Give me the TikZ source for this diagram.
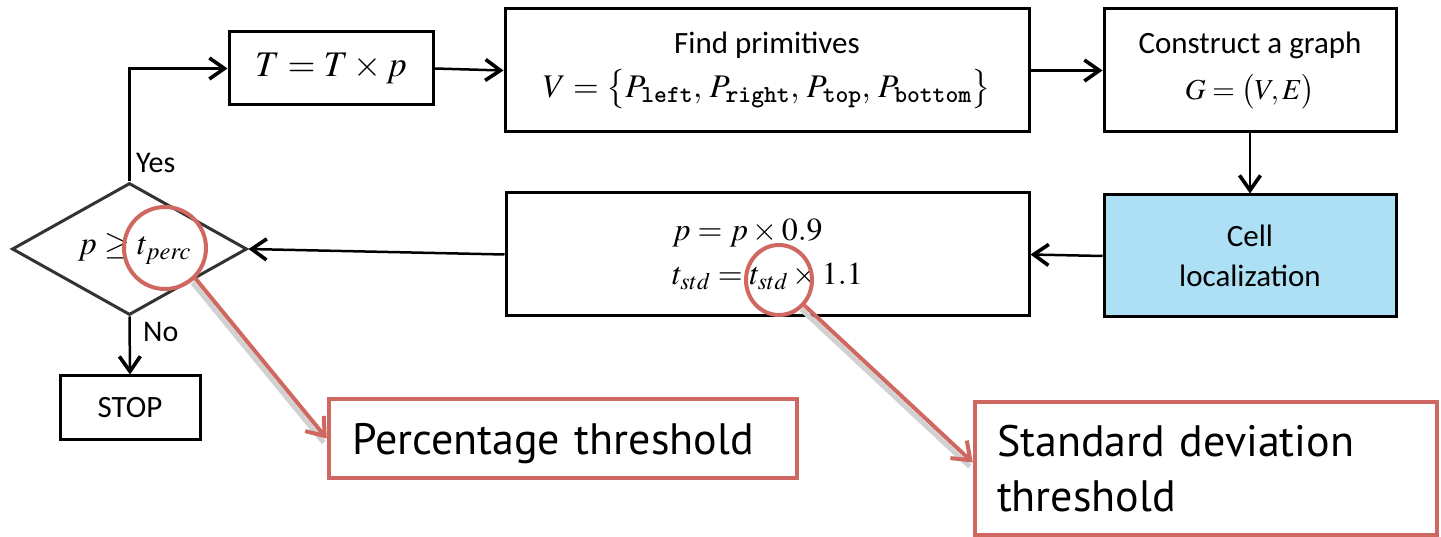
\documentclass[tikz,border=0pt]{standalone}
\usepackage{amsmath}
\usepackage{mathptmx}
\usepackage[no-math]{fontspec}
\setmainfont{Carlito}
\newfontfamily\calloutfont{PT Sans}
\usetikzlibrary{arrows.meta,shapes.geometric}

\definecolor{cellblue}{RGB}{173,223,245}
\definecolor{calloutred}{RGB}{206,104,96}

\newcommand{\subtt}[1]{\text{\ttfamily\bfseries #1}}

\begin{document}
\begin{tikzpicture}[x=1pt,y=-1pt,
  box/.style={draw, line width=3pt, rectangle, inner sep=0pt, align=center,
    font=\fontsize{31}{44}\selectfont},
  conn/.style={line width=2.5pt,
    -{Straight Barb[length=15pt,width=21pt,line width=3.6pt]}},
  lbl/.style={anchor=base west, inner sep=0pt, font=\fontsize{30}{36}\selectfont},
  ring/.style={draw=calloutred, line width=4pt, inner sep=0pt},
  callout/.style={draw=calloutred, line width=4.5pt, rectangle, inner sep=0pt,
    align=left, font=\calloutfont\fontsize{44}{55}\selectfont},
  pointer/.style={draw=calloutred, line width=4pt,
    -{Straight Barb[length=16pt,width=24pt,line width=4pt]}},
  pshadow/.style={draw=black!18, line width=5pt}
]
\useasboundingbox (0,0) rectangle (1441,537);

% main flow
\node[box, minimum width=204pt, minimum height=73pt] (tbox) at (331,68.5)
  {\fontsize{36}{40}\selectfont $T = T \times p$};
\node[box, minimum width=524pt, minimum height=123pt] (find) at (767,70.5)
  {Find primitives\\
   \fontsize{33}{40}\selectfont
   $V = \bigl\{P_{\subtt{left}},\, P_{\subtt{right}},\, P_{\subtt{top}},\, P_{\subtt{bottom}}\bigr\}$};
\node[box, minimum width=292pt, minimum height=123pt] (cons) at (1250,70.5)
  {Construct a graph\\[2pt] \fontsize{29}{40}\selectfont $G = \bigl(V,E\bigr)$};
\node[box, fill=cellblue, minimum width=292pt, minimum height=122pt,
  font=\fontsize{31}{40}\selectfont] (cell) at (1250,256)
  {Cell\\ localization};
\node[box, minimum width=523pt, minimum height=123pt, align=left] (upd) at (767.5,254.5)
  {\fontsize{32}{52}\selectfont $p = p \times 0.9$\\
   \fontsize{32}{52}\selectfont $t_{std} = t_{std} \times 1.1$};
\node[diamond, draw=black!80, line width=3pt, minimum width=235pt, minimum height=132pt,
  aspect=1.78, inner sep=0pt, font=\fontsize{33}{36}\selectfont] (dec) at (129.5,249)
  {\hspace{10pt}$p \geq t_{perc}$};
\node[box, minimum width=140pt, minimum height=63pt] (stop) at (130,407.5) {STOP};

% connectors
\draw[conn] (tbox.east) -- (find.west);
\draw[conn] (find.east) -- (cons.west);
\draw[conn] (cons.south) -- (cell.north);
\draw[conn] (cell.west) -- (upd.east);
\draw[conn] (upd.west) -- (dec.east);
\draw[conn] (dec.north) |- (tbox.west);
\draw[conn] (dec.south) -- (stop.north);

\node[lbl] (yes) at (136,173) {Yes};
\node[lbl] (no) at (143,342) {No};

% callouts
\node[ring, circle, minimum size=82pt] (ringp) at (165,248) {};
\node[ring, ellipse, minimum width=66pt, minimum height=70pt] (rings) at (779,280) {};

\node[callout, text depth=0pt, minimum width=468pt, minimum height=79pt, text width=422pt]
  (pthr) at (563,438.5) {Percentage threshold};
\node[callout, minimum width=462pt, minimum height=133pt, text width=418pt]
  (sthr) at (1206,468.5) {Standard deviation\\ threshold};

% soft shadows under the callout pointers
\draw[pshadow] ([xshift=-3pt,yshift=-4pt]ringp.-45) -- ([xshift=-3pt,yshift=-4pt]pthr.west);
\draw[pshadow] ([xshift=-3pt,yshift=-4pt]rings.-45) -- ([xshift=-3pt,yshift=2pt]sthr.west);

\draw[pointer] (ringp.-45) -- (pthr.west);
\draw[pointer] (rings.-45) -- ([yshift=6pt]sthr.west);
\end{tikzpicture}
\end{document}
